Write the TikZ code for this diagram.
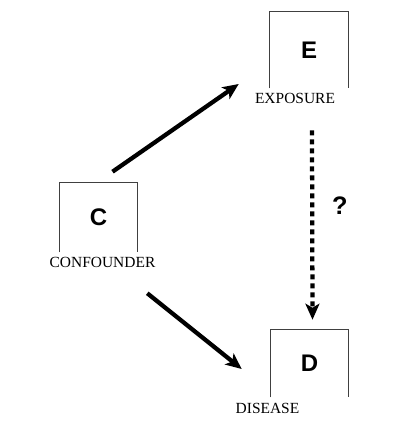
\documentclass[tikz,border=0pt]{standalone}
\usepackage{fontspec}
\setmainfont{Liberation Serif}
\setsansfont{Liberation Sans}
\usetikzlibrary{arrows.meta}

\begin{document}
\begin{tikzpicture}[x=0.75pt,y=-0.75pt,
    box/.style={inner sep=0pt,minimum width=57.75pt,font=\sffamily\bfseries\fontsize{18}{20}\selectfont},
    frame/.style={draw=black!75,line width=0.8pt},
    lbl/.style={inner sep=0pt,anchor=base,font=\fontsize{11.6}{13}\selectfont},
    arrow/.style={line width=3.2pt,-{Stealth[length=12pt,width=10.5pt,inset=3pt]}}]
      \useasboundingbox[fill=white] (0,0) rectangle (410,421);

      \node[box,minimum width=58.5pt,minimum height=57pt] (E) at (309,50) {E};
      \node[box,minimum height=51.75pt] (C) at (98.5,217.5) {C};
      \node[box,minimum height=50.25pt] (D) at (309.5,363.5) {D};

      \draw[frame] (E.south west) |- (E.north) -| (E.south east);
      \draw[frame] (C.south west) |- (C.north) -| (C.south east);
      \draw[frame] (D.south west) |- (D.north) -| (D.south east);

      \node[lbl] (expo) at ([shift={(-14,15)}]E.south) {EXPOSURE};
      \node[lbl] (conf) at ([shift={(4,15)}]C.south) {CONFOUNDER};
      \node[lbl] (dis) at ([shift={(-42,16)}]D.south) {DISEASE};

      \draw[arrow] ([shift={(14,-11)}]C.north) -- ([shift={(-31,34)}]E.west);
      \draw[arrow] ([shift={(10,41)}]C.south east) -- ([shift={(-29,5.5)}]D.west);
      \draw[arrow,dash pattern=on 3.75pt off 3pt] ([shift={(3,42)}]E.south) --
        node[pos=0.4,right=10pt,font=\sffamily\bfseries\fontsize{19}{21}\selectfont] {?}
        ([shift={(3,-10)}]D.north);
    \end{tikzpicture}
\end{document}
